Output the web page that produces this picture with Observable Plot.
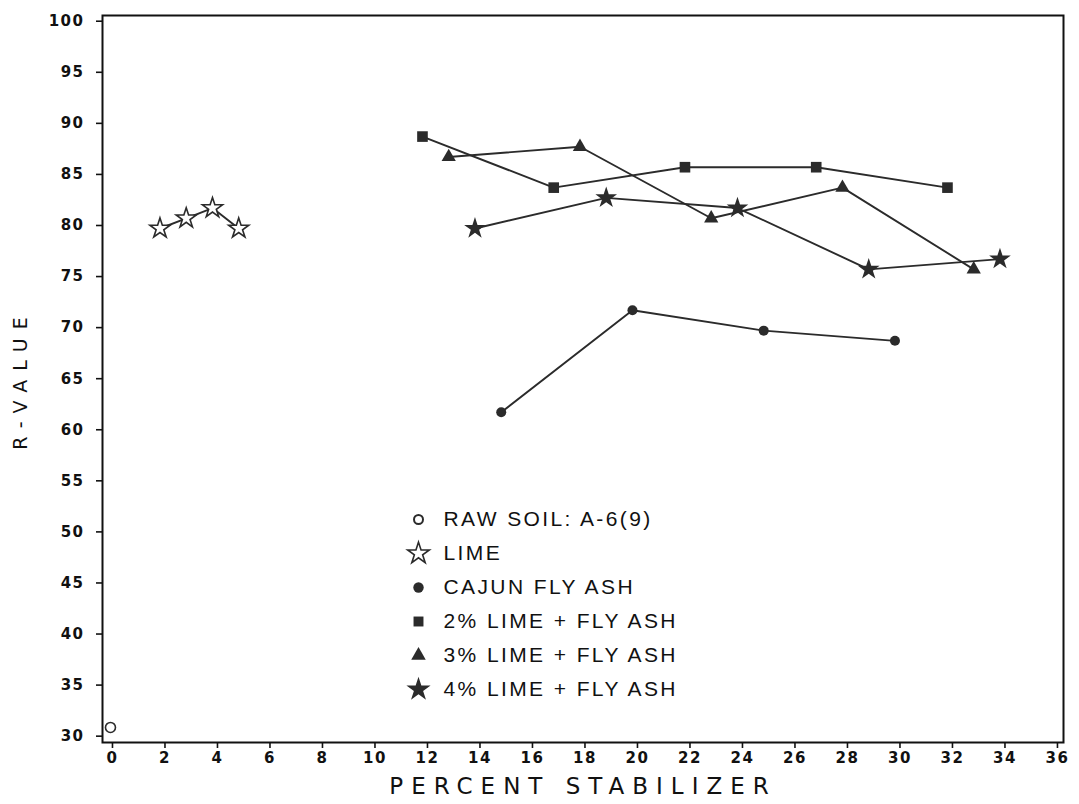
<!DOCTYPE html>
<html>
<head>
<meta charset="utf-8">
<script src="https://cdn.jsdelivr.net/npm/d3@7"></script>
<script src="https://cdn.jsdelivr.net/npm/@observablehq/plot@0.6"></script>
<style>
  html, body { margin: 0; padding: 0; background: #fff; }
  #chart svg { display: block; }
  g[aria-label="x-axis tick label"] text, g[aria-label="y-axis tick label"] text {
    letter-spacing: 1.5px; font-size: 15px !important; font-weight: bold; font-family: "DejaVu Sans", sans-serif;
  }
  .xtitle text { letter-spacing: 8px; }
  .ytitle text { letter-spacing: 9px; }
  .legtext text { letter-spacing: 2.4px; }
</style>
</head>
<body>
<div id="chart"></div>
<script>
// ---- data ----
const rawSoilX = [0];
const rawSoilY = [31];
const limeX = [2, 3, 4, 5];
const limeY = [80, 81, 82, 80];
const cajunX = [15, 20, 25, 30];
const cajunY = [62, 72, 70, 69];
const lime2X = [12, 17, 22, 27, 32];
const lime2Y = [89, 84, 86, 86, 84];
const lime3X = [13, 18, 23, 28, 33];
const lime3Y = [87, 88, 81, 84, 76];
const lime4X = [14, 19, 24, 29, 34];
const lime4Y = [80, 83, 82, 76, 77];
const xTicks = [0, 2, 4, 6, 8, 10, 12, 14, 16, 18, 20, 22, 24, 26, 28, 30, 32, 34, 36];
const yTicks = [30, 35, 40, 45, 50, 55, 60, 65, 70, 75, 80, 85, 90, 95, 100];
const legendLabels = ["RAW SOIL: A-6(9)", "LIME", "CAJUN FLY ASH", "2% LIME + FLY ASH", "3% LIME + FLY ASH", "4% LIME + FLY ASH"];
const xTitle = "PERCENT STABILIZER";
const yTitle = "R-VALUE";

const INK = "#2b2b2b";
const series = [
  {xs: rawSoilX, ys: rawSoilY, symbol: "circle", r: 5, fill: "white", stroke: INK, sw: 1.6, line: false, dx: -2, dy: 1.5},
  {xs: limeX, ys: limeY, symbol: "star", r: 6.3, fill: "white", stroke: INK, sw: 1.6, line: true, dx: -5, dy: 3},
  {xs: cajunX, ys: cajunY, symbol: "circle", r: 5, fill: INK, stroke: "none", sw: 0, line: true, dx: -5, dy: 3},
  {xs: lime2X, ys: lime2Y, symbol: "square", r: 6, fill: INK, stroke: "none", sw: 0, line: true, dx: -5, dy: 3},
  {xs: lime3X, ys: lime3Y, symbol: "triangle", r: 5.3, fill: INK, stroke: "none", sw: 0, line: true, dx: -5, dy: 3},
  {xs: lime4X, ys: lime4Y, symbol: "star", r: 6.8, fill: INK, stroke: "none", sw: 0, line: true, dx: -5, dy: 3}
];

const marks = [];
for (const s of series) {
  const rows = s.xs.map((x, i) => ({x, y: s.ys[i]}));
  if (s.line) marks.push(Plot.line(rows, {x: "x", y: "y", stroke: INK, strokeWidth: 1.9, dx: s.dx, dy: s.dy}));
}
for (const s of series) {
  const rows = s.xs.map((x, i) => ({x, y: s.ys[i]}));
  marks.push(Plot.dot(rows, {x: "x", y: "y", symbol: s.symbol, r: s.r, fill: s.fill, stroke: s.stroke, strokeWidth: s.sw, dx: s.dx, dy: s.dy}));
}

// legend (layout offsets from the frame's top-left corner)
const legSymX = 316, legTextX = 341, legTop = 504, legGap = 34;
const legSym = [
  {symbol: "circle", r: 4.5, fill: "white", stroke: INK, sw: 2},
  {symbol: "star", r: 6.8, fill: "white", stroke: INK, sw: 1.6},
  {symbol: "circle", r: 5.2, fill: INK, stroke: "none", sw: 0},
  {symbol: "square", r: 5.6, fill: INK, stroke: "none", sw: 0},
  {symbol: "triangle", r: 5.4, fill: INK, stroke: "none", sw: 0},
  {symbol: "star", r: 7.6, fill: INK, stroke: "none", sw: 0}
];
legendLabels.forEach((label, i) => {
  const L = legSym[i];
  marks.push(Plot.dot([label], {frameAnchor: "top-left", dx: legSymX, dy: legTop + i * legGap, symbol: L.symbol, r: L.r, fill: L.fill, stroke: L.stroke, strokeWidth: L.sw}));
  marks.push(Plot.text([label], {frameAnchor: "top-left", dx: legTextX, dy: legTop + i * legGap, text: d => d, textAnchor: "start", lineAnchor: "middle", fontSize: 21, fontFamily: "Liberation Sans", fill: "#111", className: "legtext"}));
});

marks.push(Plot.frame({stroke: "#111", strokeWidth: 2}));
marks.push(Plot.axisX({ticks: xTicks, tickSize: 6, tickPadding: 4, tickFormat: d => String(d), fontSize: 15, fontWeight: "bold", fontFamily: "DejaVu Sans", label: null, stroke: "#111", strokeWidth: 1.6, fill: "#111"}));
marks.push(Plot.axisY({ticks: yTicks, tickSize: 6, tickPadding: 12, tickFormat: d => String(d), fontSize: 15, fontWeight: "bold", fontFamily: "DejaVu Sans", label: null, stroke: "#111", strokeWidth: 1.6, fill: "#111"}));
marks.push(Plot.text([xTitle], {frameAnchor: "bottom", dy: 44, text: d => d, textAnchor: "middle", lineAnchor: "middle", fontSize: 23, fontFamily: "DejaVu Sans", fill: "#111", className: "xtitle"}));
marks.push(Plot.text([yTitle], {frameAnchor: "left", dx: -82, rotate: -90, text: d => d, textAnchor: "middle", lineAnchor: "middle", fontSize: 19, fontFamily: "DejaVu Sans", fill: "#111", className: "ytitle"}));

const chart = Plot.plot({
  width: 1079,
  height: 804,
  marginLeft: 102,
  marginRight: 16,
  marginTop: 15,
  marginBottom: 62,
  x: {domain: [-0.38, 36.23]},
  y: {domain: [29.38, 100.56]},
  style: {background: "white", color: "#111"},
  marks
});
document.getElementById("chart").appendChild(chart);
</script>
</body>
</html>
